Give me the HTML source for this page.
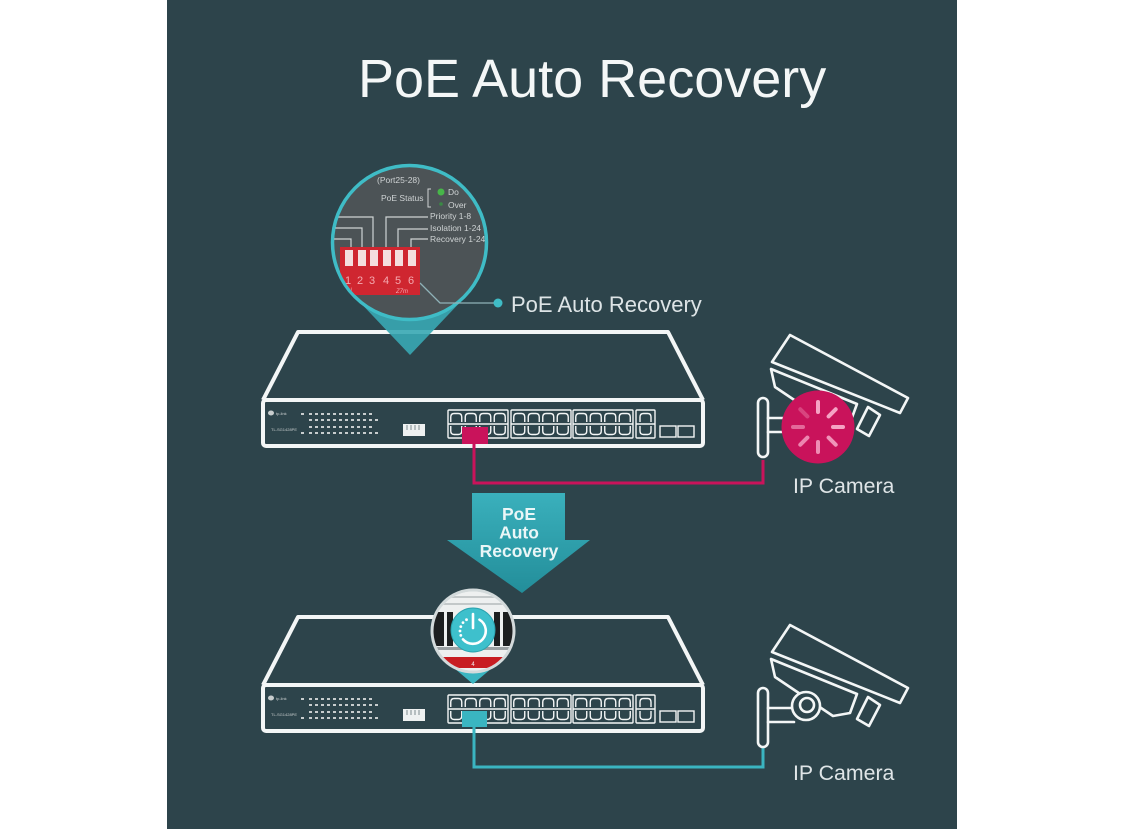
<!DOCTYPE html>
<html>
<head>
<meta charset="utf-8">
<style>
html,body{margin:0;padding:0;background:#ffffff;}
svg{display:block;font-family:"Liberation Sans",Arial,sans-serif;}
</style>
</head>
<body>
<svg width="1125" height="829" viewBox="0 0 1125 829" xmlns="http://www.w3.org/2000/svg">
<defs>
  <clipPath id="c1"><circle cx="409.5" cy="242.5" r="75.5"/></clipPath>
  <clipPath id="c2"><circle cx="473" cy="631" r="39.5"/></clipPath>
  <linearGradient id="ag" x1="0" y1="0" x2="0" y2="1">
    <stop offset="0" stop-color="#3ab0bc"/>
    <stop offset="1" stop-color="#238e9a"/>
  </linearGradient>
</defs>

<!-- panel -->
<rect x="167" y="0" width="790" height="829" fill="#2d444b"/>

<!-- title -->
<text x="358" y="97" font-size="54" fill="#f4f7f7">PoE Auto Recovery</text>

<!-- ================= TOP SWITCH ================= -->
<g id="sw1">
  <g fill="none" stroke="#f3f6f6" stroke-width="4" stroke-linejoin="round">
    <path d="M263,400 L298,332 H668 L703,400"/>
    <rect x="263" y="400" width="440" height="46" rx="3"/>
  </g>
  <ellipse cx="271" cy="413" rx="3" ry="2.5" fill="#c8cdce"/>
  <text x="276" y="415" font-size="4" fill="#c8cdce">tp-link</text>
  <text x="271" y="431" font-size="4" fill="#c8cdce">TL-SG1428PE</text>
  <g stroke="#c8cdce" stroke-width="2" stroke-dasharray="3 3">
    <line x1="309" y1="414" x2="372" y2="414"/>
    <line x1="309" y1="420" x2="372" y2="420"/>
    <line x1="309" y1="427" x2="372" y2="427"/>
    <line x1="309" y1="433" x2="372" y2="433"/>
  </g>
  <g fill="#c8cdce">
    <rect x="301" y="413" width="3" height="2"/>
    <rect x="301" y="432" width="3" height="2"/>
    <rect x="375" y="419" width="3" height="2"/>
    <rect x="375" y="432" width="3" height="2"/>
  </g>
  <rect x="403" y="424" width="22" height="12" fill="#eef1f1"/>
  <g stroke="#7d8a8e" stroke-width="1">
    <line x1="407" y1="425" x2="407" y2="430"/><line x1="411" y1="425" x2="411" y2="430"/>
    <line x1="415" y1="425" x2="415" y2="430"/><line x1="419" y1="425" x2="419" y2="430"/>
  </g>
  <g fill="none" stroke="#f3f6f6" stroke-width="1.4">
    <g transform="translate(448,410)">
      <rect x="0" y="0" width="60" height="28" rx="1"/><line x1="0" y1="14" x2="60" y2="14"/>
      <path d="M2.75,12V7Q2.75,3.5 6.25,3.5H10.25Q13.75,3.5 13.75,7V12M17.25,12V7Q17.25,3.5 20.75,3.5H24.75Q28.25,3.5 28.25,7V12M31.75,12V7Q31.75,3.5 35.25,3.5H39.25Q42.75,3.5 42.75,7V12M46.25,12V7Q46.25,3.5 49.75,3.5H53.75Q57.25,3.5 57.25,7V12"/>
      <path d="M2.75,16V21Q2.75,24.5 6.25,24.5H10.25Q13.75,24.5 13.75,21V16M17.25,16V21Q17.25,24.5 20.75,24.5H24.75Q28.25,24.5 28.25,21V16M31.75,16V21Q31.75,24.5 35.25,24.5H39.25Q42.75,24.5 42.75,21V16M46.25,16V21Q46.25,24.5 49.75,24.5H53.75Q57.25,24.5 57.25,21V16"/>
    </g>
    <g transform="translate(511,410)">
      <rect x="0" y="0" width="60" height="28" rx="1"/><line x1="0" y1="14" x2="60" y2="14"/>
      <path d="M2.75,12V7Q2.75,3.5 6.25,3.5H10.25Q13.75,3.5 13.75,7V12M17.25,12V7Q17.25,3.5 20.75,3.5H24.75Q28.25,3.5 28.25,7V12M31.75,12V7Q31.75,3.5 35.25,3.5H39.25Q42.75,3.5 42.75,7V12M46.25,12V7Q46.25,3.5 49.75,3.5H53.75Q57.25,3.5 57.25,7V12"/>
      <path d="M2.75,16V21Q2.75,24.5 6.25,24.5H10.25Q13.75,24.5 13.75,21V16M17.25,16V21Q17.25,24.5 20.75,24.5H24.75Q28.25,24.5 28.25,21V16M31.75,16V21Q31.75,24.5 35.25,24.5H39.25Q42.75,24.5 42.75,21V16M46.25,16V21Q46.25,24.5 49.75,24.5H53.75Q57.25,24.5 57.25,21V16"/>
    </g>
    <g transform="translate(573,410)">
      <rect x="0" y="0" width="60" height="28" rx="1"/><line x1="0" y1="14" x2="60" y2="14"/>
      <path d="M2.75,12V7Q2.75,3.5 6.25,3.5H10.25Q13.75,3.5 13.75,7V12M17.25,12V7Q17.25,3.5 20.75,3.5H24.75Q28.25,3.5 28.25,7V12M31.75,12V7Q31.75,3.5 35.25,3.5H39.25Q42.75,3.5 42.75,7V12M46.25,12V7Q46.25,3.5 49.75,3.5H53.75Q57.25,3.5 57.25,7V12"/>
      <path d="M2.75,16V21Q2.75,24.5 6.25,24.5H10.25Q13.75,24.5 13.75,21V16M17.25,16V21Q17.25,24.5 20.75,24.5H24.75Q28.25,24.5 28.25,21V16M31.75,16V21Q31.75,24.5 35.25,24.5H39.25Q42.75,24.5 42.75,21V16M46.25,16V21Q46.25,24.5 49.75,24.5H53.75Q57.25,24.5 57.25,21V16"/>
    </g>
    <g transform="translate(636,410)">
      <rect x="0" y="0" width="19" height="28" rx="1"/><line x1="0" y1="14" x2="19" y2="14"/>
      <path d="M4,12V7Q4,3.5 7.5,3.5H11.5Q15,3.5 15,7V12M4,16V21Q4,24.5 7.5,24.5H11.5Q15,24.5 15,21V16"/>
    </g>
    <rect x="660" y="426" width="16" height="11"/>
    <rect x="678" y="426" width="16" height="11"/>
  </g>
</g>

<!-- pink connector & cable -->
<path d="M474,444 V483 H763 V460" fill="none" stroke="#c9135b" stroke-width="3"/>
<rect x="462" y="427" width="26" height="17" fill="#c9135b"/>

<!-- top magnifier -->
<path d="M354,296 L410,355 L466,296 Z" fill="#39a9b4" opacity="0.9"/>
<circle cx="409.5" cy="242.5" r="77" fill="#4c5356" stroke="#3fbcc6" stroke-width="3.5"/>
<g clip-path="url(#c1)">
  <g fill="#cfd3d4" font-size="8.5">
    <text x="377" y="183">(Port25-28)</text>
    <text x="381" y="201">PoE Status</text>
    <text x="448" y="195">Do</text>
    <text x="448" y="208">Over</text>
    <text x="430" y="219">Priority 1-8</text>
    <text x="430" y="231">Isolation 1-24</text>
    <text x="430" y="242">Recovery 1-24</text>
  </g>
  <path d="M431,189 H428 V207 H431" fill="none" stroke="#cfd3d4" stroke-width="1"/>
  <circle cx="441" cy="192" r="3.5" fill="#47b649"/>
  <circle cx="441" cy="204" r="1.8" fill="#3a8a45"/>
  <g fill="none" stroke="#cfd3d4" stroke-width="1.2">
    <path d="M373,248 V217 H325"/>
    <path d="M362,248 V228 H325"/>
    <path d="M351,248 V239 H325"/>
    <path d="M386,248 V217 H428"/>
    <path d="M398,248 V229 H428"/>
    <path d="M411,248 V239 H428"/>
  </g>
  <rect x="340" y="247" width="80" height="48" fill="#cf2630"/>
  <g fill="#f4dede">
    <rect x="345" y="250" width="8" height="16"/>
    <rect x="358" y="250" width="8" height="16"/>
    <rect x="370" y="250" width="8" height="16"/>
    <rect x="383" y="250" width="8" height="16"/>
    <rect x="395" y="250" width="8" height="16"/>
    <rect x="408" y="250" width="8" height="16"/>
  </g>
  <g fill="#f4a9b0" font-size="11">
    <text x="345" y="284">1</text><text x="357" y="284">2</text><text x="369" y="284">3</text>
    <text x="383" y="284">4</text><text x="395" y="284">5</text><text x="408" y="284">6</text>
  </g>
  <text x="343" y="292" font-size="6" fill="#f4a9b0">ON</text>
  <text x="396" y="293" font-size="6" fill="#f4a9b0" font-style="italic">Z7m</text>
</g>
<path d="M420,283 L440,303 H496" fill="none" stroke="#8fb2b8" stroke-width="1.3"/>
<circle cx="498" cy="303" r="4.5" fill="#3fbcc6"/>
<text x="511" y="312" font-size="22" fill="#dde4e6">PoE Auto Recovery</text>

<!-- top camera -->
<g transform="translate(0,-290)" fill="#2d444b" stroke="#f3f6f6" stroke-width="2.6" stroke-linejoin="round" stroke-linecap="round">
  <rect x="758" y="688" width="10" height="59" rx="5"/>
  <line x1="768" y1="708" x2="794" y2="708"/>
  <line x1="768" y1="722" x2="794" y2="722"/>
  <polygon points="771,659 775,677 833,716 850,713 857,694"/>
  <polygon points="790,625 908,688 900,703 772,652"/>
  <circle cx="806" cy="706" r="14"/>
  <circle cx="807" cy="705" r="7"/>
  <polygon points="868,697 880,705 869,726 857,719"/>
</g>
<circle cx="818" cy="427" r="36.5" fill="#c9135b"/>
<g stroke="#f5a3c4" stroke-width="4" stroke-linecap="round">
  <line x1="818" y1="412" x2="818" y2="402"/>
  <line x1="828.6" y1="416.4" x2="835.7" y2="409.3"/>
  <line x1="833" y1="427" x2="843" y2="427"/>
  <line x1="828.6" y1="437.6" x2="835.7" y2="444.7" opacity="0.9"/>
  <line x1="818" y1="442" x2="818" y2="452" opacity="0.85"/>
  <line x1="807.4" y1="437.6" x2="800.3" y2="444.7" opacity="0.8"/>
  <line x1="803" y1="427" x2="793" y2="427" opacity="0.6"/>
  <line x1="807.4" y1="416.4" x2="800.3" y2="409.3" opacity="0.35"/>
</g>
<text x="793" y="493" font-size="21.3" fill="#dfe5e7">IP Camera</text>

<!-- arrow -->
<polygon points="472,493 565,493 565,540 590,540 522,593 447,540 472,540" fill="url(#ag)"/>
<g font-size="17.5" font-weight="bold" fill="#eaf6f7" text-anchor="middle">
  <text x="519" y="520">PoE</text>
  <text x="519" y="538.5">Auto</text>
  <text x="519" y="557">Recovery</text>
</g>

<!-- ================= BOTTOM SWITCH ================= -->
<g transform="translate(0,285)">
  <g fill="none" stroke="#f3f6f6" stroke-width="4" stroke-linejoin="round">
    <path d="M263,400 L298,332 H668 L703,400"/>
    <rect x="263" y="400" width="440" height="46" rx="3"/>
  </g>
  <ellipse cx="271" cy="413" rx="3" ry="2.5" fill="#c8cdce"/>
  <text x="276" y="415" font-size="4" fill="#c8cdce">tp-link</text>
  <text x="271" y="431" font-size="4" fill="#c8cdce">TL-SG1428PE</text>
  <g stroke="#c8cdce" stroke-width="2" stroke-dasharray="3 3">
    <line x1="309" y1="414" x2="372" y2="414"/>
    <line x1="309" y1="420" x2="372" y2="420"/>
    <line x1="309" y1="427" x2="372" y2="427"/>
    <line x1="309" y1="433" x2="372" y2="433"/>
  </g>
  <g fill="#c8cdce">
    <rect x="301" y="413" width="3" height="2"/>
    <rect x="301" y="432" width="3" height="2"/>
    <rect x="375" y="419" width="3" height="2"/>
    <rect x="375" y="432" width="3" height="2"/>
  </g>
  <rect x="403" y="424" width="22" height="12" fill="#eef1f1"/>
  <g stroke="#7d8a8e" stroke-width="1">
    <line x1="407" y1="425" x2="407" y2="430"/><line x1="411" y1="425" x2="411" y2="430"/>
    <line x1="415" y1="425" x2="415" y2="430"/><line x1="419" y1="425" x2="419" y2="430"/>
  </g>
  <g fill="none" stroke="#f3f6f6" stroke-width="1.4">
    <g transform="translate(448,410)">
      <rect x="0" y="0" width="60" height="28" rx="1"/><line x1="0" y1="14" x2="60" y2="14"/>
      <path d="M2.75,12V7Q2.75,3.5 6.25,3.5H10.25Q13.75,3.5 13.75,7V12M17.25,12V7Q17.25,3.5 20.75,3.5H24.75Q28.25,3.5 28.25,7V12M31.75,12V7Q31.75,3.5 35.25,3.5H39.25Q42.75,3.5 42.75,7V12M46.25,12V7Q46.25,3.5 49.75,3.5H53.75Q57.25,3.5 57.25,7V12"/>
      <path d="M2.75,16V21Q2.75,24.5 6.25,24.5H10.25Q13.75,24.5 13.75,21V16M17.25,16V21Q17.25,24.5 20.75,24.5H24.75Q28.25,24.5 28.25,21V16M31.75,16V21Q31.75,24.5 35.25,24.5H39.25Q42.75,24.5 42.75,21V16M46.25,16V21Q46.25,24.5 49.75,24.5H53.75Q57.25,24.5 57.25,21V16"/>
    </g>
    <g transform="translate(511,410)">
      <rect x="0" y="0" width="60" height="28" rx="1"/><line x1="0" y1="14" x2="60" y2="14"/>
      <path d="M2.75,12V7Q2.75,3.5 6.25,3.5H10.25Q13.75,3.5 13.75,7V12M17.25,12V7Q17.25,3.5 20.75,3.5H24.75Q28.25,3.5 28.25,7V12M31.75,12V7Q31.75,3.5 35.25,3.5H39.25Q42.75,3.5 42.75,7V12M46.25,12V7Q46.25,3.5 49.75,3.5H53.75Q57.25,3.5 57.25,7V12"/>
      <path d="M2.75,16V21Q2.75,24.5 6.25,24.5H10.25Q13.75,24.5 13.75,21V16M17.25,16V21Q17.25,24.5 20.75,24.5H24.75Q28.25,24.5 28.25,21V16M31.75,16V21Q31.75,24.5 35.25,24.5H39.25Q42.75,24.5 42.75,21V16M46.25,16V21Q46.25,24.5 49.75,24.5H53.75Q57.25,24.5 57.25,21V16"/>
    </g>
    <g transform="translate(573,410)">
      <rect x="0" y="0" width="60" height="28" rx="1"/><line x1="0" y1="14" x2="60" y2="14"/>
      <path d="M2.75,12V7Q2.75,3.5 6.25,3.5H10.25Q13.75,3.5 13.75,7V12M17.25,12V7Q17.25,3.5 20.75,3.5H24.75Q28.25,3.5 28.25,7V12M31.75,12V7Q31.75,3.5 35.25,3.5H39.25Q42.75,3.5 42.75,7V12M46.25,12V7Q46.25,3.5 49.75,3.5H53.75Q57.25,3.5 57.25,7V12"/>
      <path d="M2.75,16V21Q2.75,24.5 6.25,24.5H10.25Q13.75,24.5 13.75,21V16M17.25,16V21Q17.25,24.5 20.75,24.5H24.75Q28.25,24.5 28.25,21V16M31.75,16V21Q31.75,24.5 35.25,24.5H39.25Q42.75,24.5 42.75,21V16M46.25,16V21Q46.25,24.5 49.75,24.5H53.75Q57.25,24.5 57.25,21V16"/>
    </g>
    <g transform="translate(636,410)">
      <rect x="0" y="0" width="19" height="28" rx="1"/><line x1="0" y1="14" x2="19" y2="14"/>
      <path d="M4,12V7Q4,3.5 7.5,3.5H11.5Q15,3.5 15,7V12M4,16V21Q4,24.5 7.5,24.5H11.5Q15,24.5 15,21V16"/>
    </g>
    <rect x="660" y="426" width="16" height="11"/>
    <rect x="678" y="426" width="16" height="11"/>
  </g>
</g>

<!-- teal connector & cable -->
<path d="M474,727 V767 H763 V747" fill="none" stroke="#3ab5c1" stroke-width="3"/>
<rect x="462" y="711" width="25" height="16" fill="#3ab5c1"/>

<!-- bottom magnifier -->
<path d="M448,663 L473,684 L498,663 Z" fill="#3ab5c1"/>
<circle cx="473" cy="631" r="41" fill="#eef0f0" stroke="#d3dadb" stroke-width="3"/>
<g clip-path="url(#c2)">
  <rect x="430" y="588" width="90" height="90" fill="#eef0f0"/>
  <line x1="430" y1="597" x2="520" y2="597" stroke="#c3c8c9" stroke-width="2"/>
  <line x1="430" y1="604" x2="520" y2="604" stroke="#c3c8c9" stroke-width="2"/>
  <rect x="430" y="612" width="14" height="34" fill="#1d1f20"/>
  <rect x="447" y="612" width="6" height="34" fill="#1d1f20"/>
  <rect x="494" y="612" width="6" height="34" fill="#1d1f20"/>
  <rect x="503" y="612" width="16" height="34" fill="#1d1f20"/>
  <rect x="430" y="647" width="90" height="3" fill="#9aa0a2"/>
  <rect x="430" y="657" width="90" height="11" fill="#c81d22"/>
  <text x="473" y="666" font-size="6" fill="#f3f3f3" text-anchor="middle">4</text>
</g>
<circle cx="473" cy="630" r="22" fill="#3ec0cc" stroke="#2aa2ae" stroke-width="1"/>
<g fill="none" stroke="#ffffff" stroke-width="2.6" stroke-linecap="round">
  <line x1="473" y1="614" x2="473" y2="628"/>
  <path d="M479.5,619.7 A13,13 0 1 1 463,639.4"/>
</g>
<g fill="#ffffff">
  <circle cx="460.8" cy="635.4" r="1.4"/>
  <circle cx="460" cy="631" r="1.4"/>
  <circle cx="460.8" cy="626.6" r="1.4"/>
  <circle cx="463" cy="622.6" r="1.4"/>
  <circle cx="466.5" cy="619.7" r="1.4"/>
</g>

<!-- bottom camera -->
<g fill="#2d444b" stroke="#f3f6f6" stroke-width="2.6" stroke-linejoin="round" stroke-linecap="round">
  <rect x="758" y="688" width="10" height="59" rx="5"/>
  <line x1="768" y1="708" x2="794" y2="708"/>
  <line x1="768" y1="722" x2="794" y2="722"/>
  <polygon points="771,659 775,677 833,716 850,713 857,694"/>
  <polygon points="790,625 908,688 900,703 772,652"/>
  <circle cx="806" cy="706" r="14"/>
  <circle cx="807" cy="705" r="7"/>
  <polygon points="868,697 880,705 869,726 857,719"/>
</g>
<text x="793" y="780" font-size="21.3" fill="#dfe5e7">IP Camera</text>
</svg>
</body>
</html>
